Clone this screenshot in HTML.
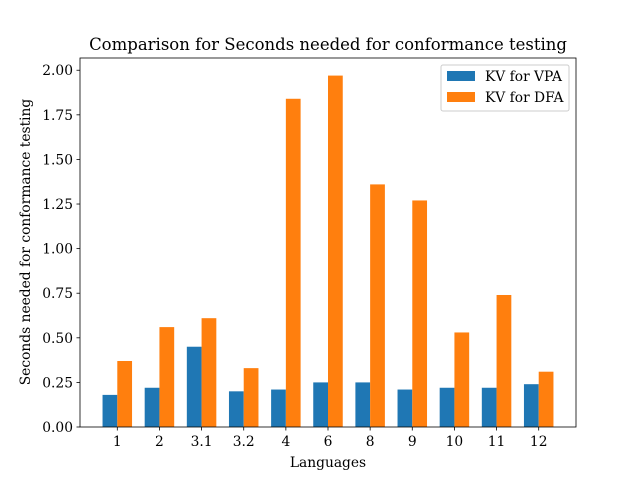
<!DOCTYPE html>
<html><head><meta charset="utf-8"><style>
body{margin:0;background:#fff}
svg text{font-family:"DejaVu Serif","Liberation Serif",serif;fill:#000}
</style></head><body>
<svg id="chart" width="640" height="480" xmlns="http://www.w3.org/2000/svg">
<rect width="640" height="480" fill="#fff"/>
<g id="plot"></g>
<text x="328" y="50" font-size="16.5" text-anchor="middle">Comparison for Seconds needed for conformance testing</text>
<text x="328" y="467" font-size="13.8" text-anchor="middle">Languages</text>
<text transform="translate(30,242) rotate(-90)" font-size="13.8" text-anchor="middle">Seconds needed for conformance testing</text>
<g>
<rect x="441" y="65" width="128" height="46" fill="#fff" stroke="#ccc" rx="2"/>
<rect x="447" y="71" width="28" height="10" fill="#1f77b4"/>
<text x="485" y="81" font-size="13.8">KV for VPA</text>
<rect x="447" y="92" width="28" height="10" fill="#ff7f0e"/>
<text x="485" y="102" font-size="13.8">KV for DFA</text>
</g>
</svg>
<script>
const categories=["1","2","3.1","3.2","4","6","8","9","10","11","12"];
const vpaValues=[0.18,0.22,0.45,0.20,0.21,0.25,0.25,0.21,0.22,0.22,0.24];
const dfaValues=[0.37,0.56,0.61,0.33,1.84,1.97,1.36,1.27,0.53,0.74,0.31];
const yTicks=[0,0.25,0.5,0.75,1.0,1.25,1.5,1.75,2.0];

const L=80,R=576,T=58,B=427;
const ns="http://www.w3.org/2000/svg";
const g=document.getElementById("plot");
const xmin=-0.885,xmax=categories.length-1+0.885;
const x=v=>L+(v-xmin)/(xmax-xmin)*(R-L);
const ymax=2.0*1.0343;
const y=v=>B-v/ymax*(B-T);
const bw=0.35;
function mk(t,a){const e=document.createElementNS(ns,t);for(const k in a)e.setAttribute(k,a[k]);g.appendChild(e);return e;}
categories.forEach((c,i)=>{
  const r1=mk("rect",{x:x(i-bw),y:y(vpaValues[i]),width:x(i)-x(i-bw),height:B-y(vpaValues[i]),fill:"#1f77b4"});
  
  
  const r2=mk("rect",{x:x(i),y:y(dfaValues[i]),width:x(i+bw)-x(i),height:B-y(dfaValues[i]),fill:"#ff7f0e"});
  
  
  const tk=mk("line",{x1:x(i),x2:x(i),y1:B,y2:B+3.5,stroke:"#000","stroke-width":0.8});
  
  
  const tl=mk("text",{x:x(i),y:B+19,"font-size":13.8,"text-anchor":"middle"});
  tl.textContent=c;
  
  
});
yTicks.forEach(v=>{
  const tk=mk("line",{x1:L-3.5,x2:L,y1:y(v),y2:y(v),stroke:"#000","stroke-width":0.8});
  
  
  const tl=mk("text",{x:L-7,y:y(v)+5,"font-size":13.8,"text-anchor":"end"});
  tl.textContent=v.toFixed(2);
  
  
});
const fr=mk("rect",{x:L,y:T,width:R-L,height:B-T,fill:"none",stroke:"#000","stroke-width":0.8});


</script>
</body></html>
